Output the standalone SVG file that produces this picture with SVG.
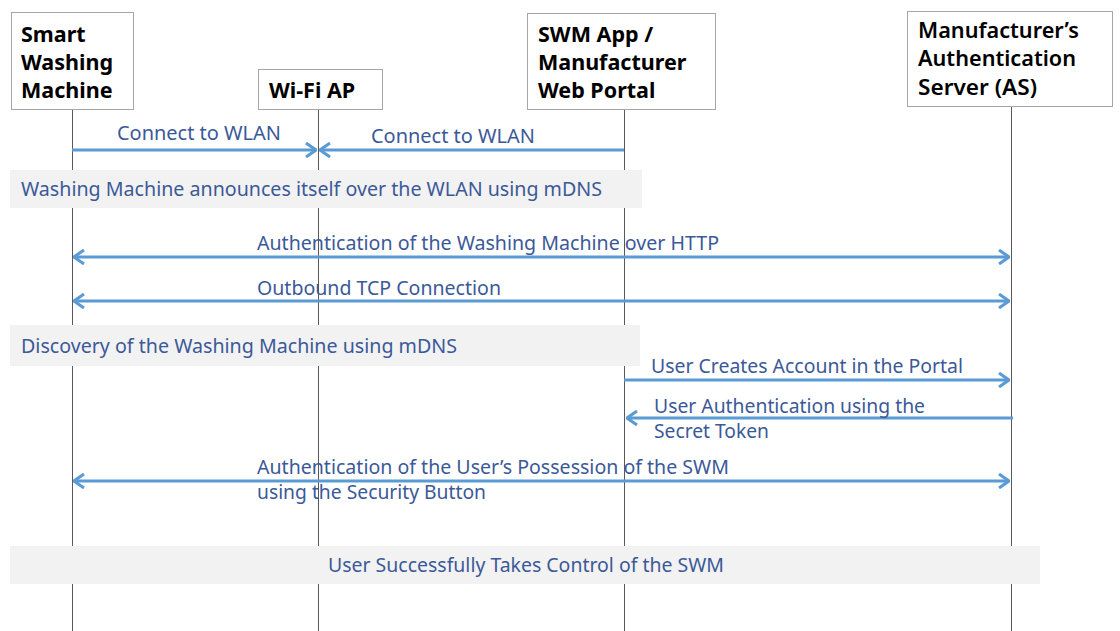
<svg xmlns="http://www.w3.org/2000/svg" width="1120" height="631" viewBox="0 0 1120 631">
  <style>
    .head { fill: #ffffff; stroke: #a6a6a6; stroke-width: 1; }
    .title { font-family: "Noto Sans", "Open Sans", sans-serif; font-size: 21.5px; font-weight: bold; fill: #000000; }
    .life { stroke: #595959; stroke-width: 1; }
    .msg { stroke: #5b9bd5; stroke-width: 3; fill: none; }
    .lbl { font-family: "Noto Sans", "Open Sans", sans-serif; font-size: 19px; fill: #3b5998; }
    .note { fill: #f2f2f2; }
  </style>
  <defs>
    <marker id="arrowEnd" viewBox="0 0 12 16" refX="11" refY="8" markerWidth="12" markerHeight="16" markerUnits="userSpaceOnUse" orient="auto">
      <path d="M1,1 L11,8 L1,15" fill="none" stroke="#5b9bd5" stroke-width="3"/>
    </marker>
    <marker id="arrowStart" viewBox="0 0 12 16" refX="1" refY="8" markerWidth="12" markerHeight="16" markerUnits="userSpaceOnUse" orient="auto">
      <path d="M11,1 L1,8 L11,15" fill="none" stroke="#5b9bd5" stroke-width="3"/>
    </marker>
  </defs>

  <rect width="1120" height="631" fill="#ffffff"/>

  <!-- lifelines -->
  <g id="lifelines">
    <line class="life" x1="72.5" y1="109" x2="72.5" y2="631"/>
    <line class="life" x1="318.5" y1="109" x2="318.5" y2="631"/>
    <line class="life" x1="624.5" y1="109" x2="624.5" y2="631"/>
    <line class="life" x1="1011.5" y1="106" x2="1011.5" y2="631"/>
  </g>

  <!-- participants -->
  <g id="smart-washing-machine">
    <rect class="head" x="11.5" y="12.5" width="122" height="97"/>
    <text class="title" x="21" y="42">Smart</text>
    <text class="title" x="21" y="70">Washing</text>
    <text class="title" x="21" y="98">Machine</text>
  </g>
  <g id="wifi-ap">
    <rect class="head" x="258.5" y="69.5" width="124" height="40"/>
    <text class="title" x="269" y="98">Wi-Fi AP</text>
  </g>
  <g id="swm-app">
    <rect class="head" x="527.5" y="13.5" width="188" height="96"/>
    <text class="title" x="538" y="42">SWM App /</text>
    <text class="title" x="538" y="70">Manufacturer</text>
    <text class="title" x="538" y="98">Web Portal</text>
  </g>
  <g id="auth-server">
    <rect class="head" x="907.5" y="11.5" width="205" height="95"/>
    <text class="title" x="918" y="38" style="font-weight:600" textLength="161" lengthAdjust="spacingAndGlyphs">Manufacturer’s</text>
    <text class="title" x="918" y="66" style="font-weight:600" textLength="158" lengthAdjust="spacingAndGlyphs">Authentication</text>
    <text class="title" x="918" y="95" style="font-weight:600" textLength="119" lengthAdjust="spacingAndGlyphs">Server (AS)</text>
  </g>

  <!-- notes spanning lifelines -->
  <g id="note-announce">
    <rect class="note" x="10" y="170" width="632" height="38"/>
    <text class="lbl" x="21" y="196" textLength="581" lengthAdjust="spacingAndGlyphs">Washing Machine announces itself over the WLAN using mDNS</text>
  </g>
  <g id="note-discovery">
    <rect class="note" x="10" y="325" width="630" height="41"/>
    <text class="lbl" x="21" y="353" textLength="436" lengthAdjust="spacingAndGlyphs">Discovery of the Washing Machine using mDNS</text>
  </g>
  <g id="note-control">
    <rect class="note" x="10" y="546" width="1030" height="38"/>
    <text class="lbl" x="328" y="572" textLength="396" lengthAdjust="spacingAndGlyphs">User Successfully Takes Control of the SWM</text>
  </g>

  <!-- messages -->
  <g id="connectors">
    <line class="msg" x1="72" y1="150" x2="316" y2="150" marker-end="url(#arrowEnd)"/>
    <line class="msg" x1="624" y1="150" x2="320" y2="150" marker-end="url(#arrowEnd)"/>
    <line class="msg" x1="74" y1="257" x2="1009" y2="257" marker-start="url(#arrowStart)" marker-end="url(#arrowEnd)"/>
    <line class="msg" x1="74" y1="301" x2="1009" y2="301" marker-start="url(#arrowStart)" marker-end="url(#arrowEnd)"/>
    <line class="msg" x1="624" y1="380" x2="1009" y2="380" marker-end="url(#arrowEnd)"/>
    <line class="msg" x1="1013" y1="418" x2="627" y2="418" marker-end="url(#arrowEnd)"/>
    <line class="msg" x1="74" y1="481" x2="1009" y2="481" marker-start="url(#arrowStart)" marker-end="url(#arrowEnd)"/>
  </g>

  <g id="connector-labels">
    <text class="lbl" x="117" y="140" textLength="164" lengthAdjust="spacingAndGlyphs">Connect to WLAN</text>
    <text class="lbl" x="371" y="143" textLength="164" lengthAdjust="spacingAndGlyphs">Connect to WLAN</text>
    <text class="lbl" x="257" y="250" textLength="462" lengthAdjust="spacingAndGlyphs">Authentication of the Washing Machine over HTTP</text>
    <text class="lbl" x="257" y="295" textLength="244" lengthAdjust="spacingAndGlyphs">Outbound TCP Connection</text>
    <text class="lbl" x="651" y="373" textLength="312" lengthAdjust="spacingAndGlyphs">User Creates Account in the Portal</text>
    <text class="lbl" x="654" y="413" textLength="271" lengthAdjust="spacingAndGlyphs">User Authentication using the</text>
    <text class="lbl" x="654" y="438" textLength="115" lengthAdjust="spacingAndGlyphs">Secret Token</text>
    <text class="lbl" x="257" y="474" textLength="472" lengthAdjust="spacingAndGlyphs">Authentication of the User’s Possession of the SWM</text>
    <text class="lbl" x="257" y="499" textLength="229" lengthAdjust="spacingAndGlyphs">using the Security Button</text>
  </g>
</svg>
